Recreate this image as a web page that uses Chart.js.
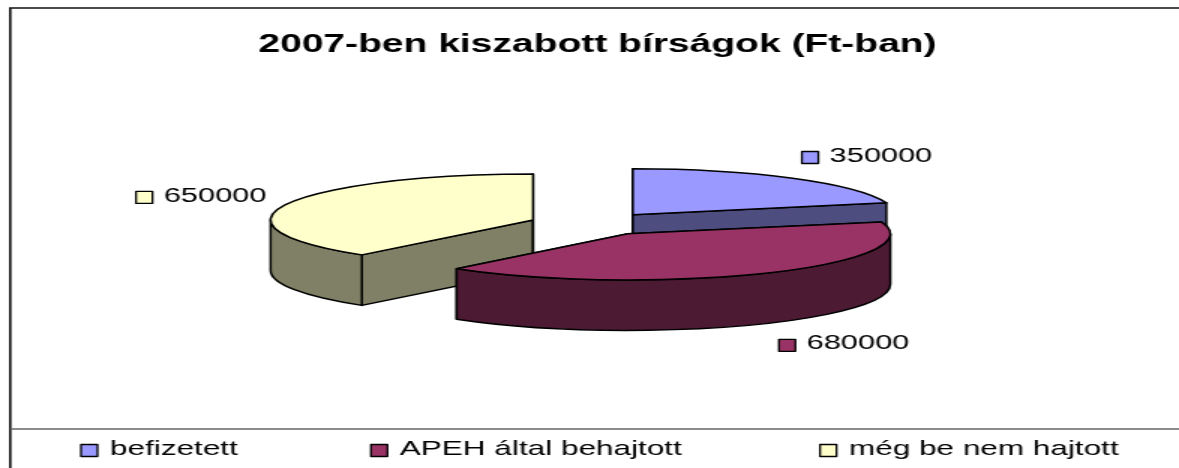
<!DOCTYPE html>
<html>
<head>
<meta charset="utf-8">
<title>2007-ben kiszabott bírságok</title>
<script src="https://cdn.jsdelivr.net/npm/chart.js@4"></script>
<style>
    html, body { margin: 0; padding: 0; background: #fff; overflow: hidden; }
</style>
</head>
<body>
<!-- the original is a picture stretched 1.5x in width, so the canvas is too -->
<canvas id="chart" width="786" height="468" style="display:block;width:1179px;height:468px"></canvas>
<script>
const chartTitle = '2007-ben kiszabott bírságok (Ft-ban)';
const categories = ['befizetett', 'APEH által behajtott', 'még be nem hajtott'];
const values = [350000, 680000, 650000];

const topColors = ['#9999FF', '#993366', '#FFFFCC'];
const sideColors = ['#4D4D80', '#4D1A33', '#808066'];

const fontFamily = "'Liberation Sans', Arial, sans-serif";

// look of the tilted pie, in canvas px
const pieLook = {
    shiftX: -2.6,
    tilt: 0.2633,
    depth: 50.5,
    explodeX: 43,
    explodeY: 11.6,
    drawOrder: [0, 2, 1],
    lineWidth: 1.5
};
// where the value label of each slice starts, from the slice center
const labelOffsets = [[112.7, -58.8], [100.7, 110], [-264.7, -24]];
const legendX = [54, 247.3, 546.7];
const legendY = 449;

const frame = { left: 6.8, top: 8, legendLine: 429 };

function sliceCenter(arc) {
    const mid = (arc.startAngle + arc.endAngle) / 2;
    return {
        x: arc.x + pieLook.shiftX + Math.cos(mid) * pieLook.explodeX,
        y: arc.y + Math.sin(mid) * pieLook.explodeY
    };
}

function drawSlice(ctx, arc, index) {
    const c = sliceCenter(arc);
    const rx = arc.outerRadius, ry = rx * pieLook.tilt, depth = pieLook.depth;
    const a1 = arc.startAngle, a2 = arc.endAngle;

    ctx.lineWidth = pieLook.lineWidth;
    ctx.lineJoin = 'round';
    ctx.strokeStyle = '#000';
    ctx.fillStyle = sideColors[index];

    // cut faces
    [a1, a2].forEach(function (a) {
        const tx = c.x + rx * Math.cos(a);
        const ty = c.y + ry * Math.sin(a);
        ctx.beginPath();
        ctx.moveTo(c.x, c.y);
        ctx.lineTo(tx, ty);
        ctx.lineTo(tx, ty + depth);
        ctx.lineTo(c.x, c.y + depth);
        ctx.closePath();
        ctx.fill();
        ctx.stroke();
    });

    // outer rim, only the part that faces us
    const lo = Math.max(a1, 0);
    const hi = Math.min(a2, Math.PI);
    if (hi > lo) {
        ctx.beginPath();
        ctx.ellipse(c.x, c.y, rx, ry, 0, lo, hi);
        ctx.ellipse(c.x, c.y + depth, rx, ry, 0, hi, lo, true);
        ctx.closePath();
        ctx.fill();
        ctx.stroke();
    }

    // top
    ctx.fillStyle = arc.options.backgroundColor;
    ctx.beginPath();
    ctx.moveTo(c.x, c.y);
    ctx.ellipse(c.x, c.y, rx, ry, 0, a1, a2);
    ctx.closePath();
    ctx.fill();
    ctx.stroke();
}

function drawKeyed(ctx, x, y, color, text, gap) {
    ctx.fillStyle = color;
    ctx.strokeStyle = '#000';
    ctx.lineWidth = 1.3;
    ctx.fillRect(x, y - 4.5, 11, 12);
    ctx.strokeRect(x, y - 4.5, 11, 12);
    ctx.fillStyle = '#000';
    ctx.fillText(text, x + gap, y);
}

const tiltedPie = {
    id: 'tiltedPie',
    beforeDraw: function (chart) {
        const ctx = chart.ctx;
        ctx.save();
        ctx.fillStyle = '#fff';
        ctx.fillRect(0, 0, chart.width, chart.height);
        ctx.lineWidth = 1.6;
        ctx.strokeStyle = '#111';
        ctx.beginPath();
        ctx.moveTo(frame.left, chart.height);
        ctx.lineTo(frame.left, frame.top);
        ctx.lineTo(chart.width, frame.top);
        ctx.stroke();
        ctx.strokeStyle = '#666';
        ctx.beginPath();
        ctx.moveTo(frame.left, frame.legendLine);
        ctx.lineTo(chart.width, frame.legendLine);
        ctx.stroke();
        ctx.restore();
    },
    beforeDatasetsDraw: function (chart) {
        const ctx = chart.ctx;
        const arcs = chart.getDatasetMeta(0).data;
        ctx.save();
        pieLook.drawOrder.forEach(function (i) {
            drawSlice(ctx, arcs[i], i);
        });

        ctx.textBaseline = 'middle';
        ctx.textAlign = 'left';

        // value labels with their small keys
        ctx.font = '20.5px ' + fontFamily;
        arcs.forEach(function (arc, i) {
            const c = sliceCenter(arc);
            drawKeyed(ctx, c.x + labelOffsets[i][0], c.y + labelOffsets[i][1],
                topColors[i], String(values[i]), 18.5);
        });

        // the library legend wraps with gaps this wide, so it is drawn here
        ctx.font = '21px ' + fontFamily;
        categories.forEach(function (name, i) {
            drawKeyed(ctx, legendX[i], legendY, topColors[i], name, 19.3);
        });
        ctx.restore();
        return false; // the library's own flat arcs are not wanted
    }
};

new Chart(document.getElementById('chart'), {
    type: 'pie',
    data: {
        labels: categories,
        datasets: [{
            data: values,
            backgroundColor: topColors,
            borderColor: '#000',
            borderWidth: 0
        }]
    },
    options: {
        responsive: false,
        devicePixelRatio: 1,
        animation: false,
        layout: { padding: { left: 10.6, bottom: 69 } },
        plugins: {
            legend: { display: false },
            tooltip: { enabled: false },
            title: {
                display: true,
                text: chartTitle,
                color: '#000',
                font: { family: fontFamily, size: 26, weight: 'bold', lineHeight: 1.2 },
                padding: { top: 29, bottom: -11.2 }
            }
        }
    },
    plugins: [tiltedPie]
});
</script>
</body>
</html>
